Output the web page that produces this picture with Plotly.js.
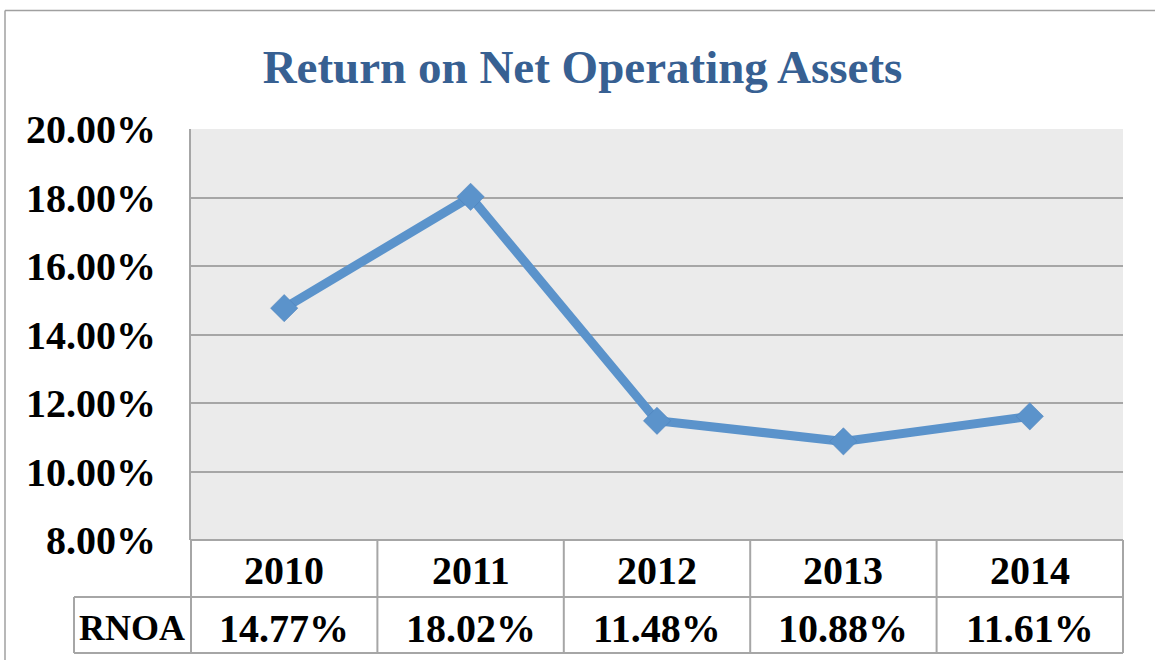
<!DOCTYPE html>
<html>
<head>
<meta charset="utf-8">
<script src="https://cdn.plot.ly/plotly-3.0.1.min.js"></script>
<style>
html,body{margin:0;padding:0;background:#ffffff;}
#chart{width:1155px;height:660px;}
</style>
</head>
<body>
<div id="chart"></div>
<script>
// ---- data ----
const chartTitle = 'Return on Net Operating Assets';
const years = ['2010', '2011', '2012', '2013', '2014'];
const rnoa = [14.77, 18.02, 11.48, 10.88, 11.61];
const rowLabel = 'RNOA';
const yTickVals = [8, 10, 12, 14, 16, 18, 20];

// ---- style / layout constants ----
const FONT = 'Liberation Serif, Times New Roman, serif';
const gridColor = '#A6A6A6';
const lineBlue = '#5B93CB';
const W = 1155, H = 660;
const L = 191, R = 1123, T = 129, B = 540;
const pw = R - L, ph = B - T;
const px = v => (v - L) / pw;          // pixel -> paper x
const py = v => (B - v) / ph;          // pixel -> paper y

const row1Bottom = py(597);
const row2Bottom = py(653);
const labelLeft = px(74);

const shapes = [];
const n = years.length;
// vertical column separators of the data table
for (let i = 0; i <= n; i++) {
  shapes.push({type: 'line', xref: 'paper', yref: 'paper',
    x0: i / n, x1: i / n, y0: 0, y1: row2Bottom,
    line: {color: gridColor, width: 2}});
}
// horizontal separators
[row1Bottom, row2Bottom].forEach(y => shapes.push({type: 'line', xref: 'paper', yref: 'paper',
  x0: labelLeft, x1: 1, y0: y, y1: y, line: {color: gridColor, width: 2}}));
shapes.push({type: 'line', xref: 'paper', yref: 'paper', x0: 0, x1: 1, y0: 0, y1: 0,
  line: {color: gridColor, width: 2}});
// left edge of the row label cell
shapes.push({type: 'line', xref: 'paper', yref: 'paper', x0: labelLeft, x1: labelLeft,
  y0: row1Bottom, y1: row2Bottom, line: {color: gridColor, width: 2}});
// outer chart border (left and top)
shapes.push({type: 'line', xref: 'paper', yref: 'paper', x0: px(5), x1: px(5),
  y0: py(10.5), y1: py(700), line: {color: '#A0A0A0', width: 1.5}});
shapes.push({type: 'line', xref: 'paper', yref: 'paper', x0: px(5), x1: px(1200),
  y0: py(10.5), y1: py(10.5), line: {color: '#A0A0A0', width: 1.5}});

const annotations = [];
const cellFont = {family: FONT, size: 40, color: '#000000'};
years.forEach((yr, i) => {
  const cx = (i + 0.5) / n;   // centre of the category column
  annotations.push({xref: 'paper', yref: 'paper', x: cx, y: py(570), text: '<b>' + yr + '</b>',
    showarrow: false, font: cellFont, xanchor: 'center', yanchor: 'middle'});
  annotations.push({xref: 'paper', yref: 'paper', x: cx, y: py(628), text: '<b>' + rnoa[i].toFixed(2) + '%</b>',
    showarrow: false, font: cellFont, xanchor: 'center', yanchor: 'middle'});
});
annotations.push({xref: 'paper', yref: 'paper', x: px(132), y: py(628), text: '<b>' + rowLabel + '</b>',
  showarrow: false, font: {family: FONT, size: 36, color: '#000000'}, xanchor: 'center', yanchor: 'middle'});

const trace = {
  type: 'scatter', mode: 'lines+markers',
  x: years, y: rnoa,
  line: {color: lineBlue, width: 9},
  marker: {symbol: 'diamond', size: 21, color: lineBlue, line: {color: '#4A7FB8', width: 0.5}},
  hoverinfo: 'x+y'
};

const layout = {
  width: W, height: H,
  margin: {l: L, r: W - R, t: T, b: H - B, pad: 0},
  paper_bgcolor: '#ffffff',
  plot_bgcolor: '#EBEBEB',
  showlegend: false,
  title: {text: '<b>' + chartTitle + '</b>', font: {family: FONT, size: 47, color: '#376092'},
    xref: 'container', yref: 'container', x: 582.5 / W, xanchor: 'center',
    y: 1 - 67 / H, yanchor: 'middle'},
  xaxis: {type: 'category', range: [-0.5, n - 0.5], showgrid: false, zeroline: false,
    showticklabels: false, ticks: '', showline: false, fixedrange: true},
  yaxis: {range: [8, 20], tickvals: yTickVals, ticktext: yTickVals.map(v => '<b>' + v.toFixed(2) + '%</b>'),
    showgrid: true, gridcolor: gridColor, gridwidth: 2, zeroline: false,
    showline: true, linecolor: gridColor, linewidth: 2,
    ticks: 'outside', ticklen: 25, tickcolor: 'rgba(0,0,0,0)',
    tickfont: {family: FONT, size: 40, color: '#000000'}, fixedrange: true},
  shapes: shapes,
  annotations: annotations
};

Plotly.newPlot('chart', [trace], layout, {displayModeBar: false, staticPlot: true});
</script>
</body>
</html>
